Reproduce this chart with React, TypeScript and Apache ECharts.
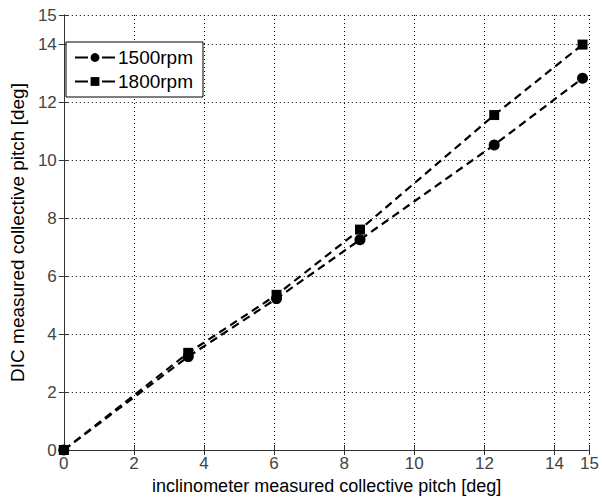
import React, { useEffect, useRef } from "react";
import * as echarts from "echarts";

// Inclinometer reading (x) and DIC reading (y) of the collective pitch, in degrees
const inclinometerPitch = [0, 3.55, 6.07, 8.45, 12.28, 14.8];
const dic1500 = [0, 3.22, 5.22, 7.25, 10.52, 12.82];
const dic1800 = [0, 3.35, 5.35, 7.6, 11.55, 13.98];
const seriesNames = ["1500rpm", "1800rpm"];

const FONT = "Arial, 'Liberation Sans', Helvetica, sans-serif";

const pairs = (xs: number[], ys: number[]) => xs.map((x, i) => [x, ys[i]]);

export default function App() {
  const ref = useRef<HTMLDivElement>(null);

  useEffect(() => {
    document.body.style.margin = "0";
    if (!ref.current) return;
    const chart = echarts.init(ref.current, undefined, { renderer: "svg" });

    const gridLine = { show: true, lineStyle: { color: "#000", width: 1, type: [1, 3] as any } };
    const frame = { show: true, lineStyle: { color: "#333", width: 1 } };
    const tickIn = { show: true, inside: true, length: 5, lineStyle: { color: "#333" } };
    const tickLabel = { color: "#444", fontFamily: FONT, fontSize: 17 };

    const lineSeries = (name: string, ys: number[], symbol: string, size: number) => ({
      name,
      type: "line",
      data: pairs(inclinometerPitch, ys),
      symbol,
      symbolSize: size,
      showAllSymbol: true,
      itemStyle: { color: "#000" },
      lineStyle: { color: "#000", width: 2.2, type: [8, 5] as any },
      z: 3,
    });

    chart.setOption({
      animation: false,
      backgroundColor: "#fff",
      grid: { left: 60, right: 10, top: 15, bottom: 48, containLabel: false },
      xAxis: [
        {
          type: "value",
          min: 0,
          max: 15,
          interval: 2,
          position: "bottom",
          axisLine: frame,
          axisTick: tickIn,
          splitLine: gridLine,
          axisLabel: { ...tickLabel, margin: 5 },
          name: "inclinometer measured collective pitch [deg]",
          nameLocation: "middle",
          nameGap: 27,
          nameTextStyle: { color: "#000", fontFamily: FONT, fontSize: 18 },
        },
        {
          type: "value",
          min: 0,
          max: 15,
          interval: 2,
          position: "top",
          axisLine: frame,
          axisTick: tickIn,
          splitLine: { show: false },
          axisLabel: { show: false },
        },
      ],
      yAxis: [
        {
          type: "value",
          min: 0,
          max: 15,
          interval: 2,
          position: "left",
          axisLine: frame,
          axisTick: tickIn,
          splitLine: gridLine,
          axisLabel: { ...tickLabel, margin: 7 },
          name: "DIC measured collective pitch [deg]",
          nameLocation: "middle",
          nameGap: 31,
          nameTextStyle: { color: "#000", fontFamily: FONT, fontSize: 19 },
        },
        {
          type: "value",
          min: 0,
          max: 15,
          interval: 2,
          position: "right",
          axisLine: frame,
          axisTick: tickIn,
          splitLine: { show: false },
          axisLabel: { show: false },
        },
      ],
      legend: {
        data: seriesNames,
        orient: "vertical",
        left: 66,
        top: 42,
        itemWidth: 40,
        itemHeight: 11,
        itemGap: 5,
        padding: [6, 10, 6, 8],
        backgroundColor: "#fff",
        borderColor: "#000",
        borderWidth: 1,
        borderRadius: 0,
        lineStyle: { type: [13, 14] as any, width: 2 },
        textStyle: { color: "#000", fontFamily: FONT, fontSize: 19, padding: [0, 0, 0, -2] },
      },
      series: [
        lineSeries(seriesNames[0], dic1500, "circle", 11),
        lineSeries(seriesNames[1], dic1800, "rect", 10),
      ],
    });

    return () => chart.dispose();
  }, []);

  return <div ref={ref} style={{ width: 602, height: 500 }} />;
}
